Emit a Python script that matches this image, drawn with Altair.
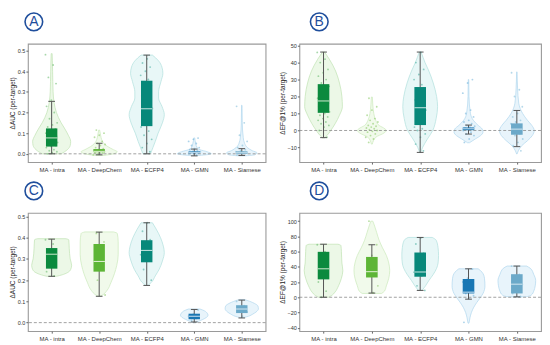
import altair as alt
import pandas as pd

cats = ["MA - intra", "MA - DeepChem", "MA - ECFP4", "MA - GMN", "MA - Siamese"]

# ---- Violin outlines: (value, half-width in category units)
A_violins = [
    [(0.485, 0.01), (0.45, 0.015), (0.4, 0.02), (0.3, 0.03), (0.25, 0.05), (0.2, 0.1), (0.15, 0.2),
     (0.12, 0.28), (0.09, 0.35), (0.06, 0.4), (0.04, 0.39), (0.02, 0.33), (0.0, 0.2)],
    [(0.115, 0.01), (0.09, 0.03), (0.07, 0.05), (0.05, 0.1), (0.035, 0.18), (0.02, 0.3), (0.01, 0.38),
     (0.0, 0.3), (-0.008, 0.1)],
    [(0.478, 0.12), (0.45, 0.25), (0.42, 0.32), (0.39, 0.34), (0.35, 0.3), (0.3, 0.25), (0.27, 0.25),
     (0.23, 0.32), (0.19, 0.37), (0.15, 0.33), (0.1, 0.24), (0.06, 0.18), (0.03, 0.13), (0.0, 0.08)],
    [(0.077, 0.01), (0.05, 0.03), (0.03, 0.06), (0.02, 0.12), (0.01, 0.27), (0.0, 0.36), (-0.008, 0.1)],
    [(0.235, 0.005), (0.15, 0.01), (0.08, 0.03), (0.05, 0.06), (0.03, 0.12), (0.015, 0.22), (0.005, 0.32),
     (-0.005, 0.27), (-0.01, 0.05)],
]
B_violins = [
    [(46.2, 0.02), (42, 0.12), (35, 0.25), (28, 0.33), (20, 0.38), (14, 0.39), (9, 0.33), (4, 0.24),
     (0, 0.15), (-3, 0.07), (-4.4, 0.02)],
    [(19.7, 0.01), (15, 0.02), (10, 0.04), (6, 0.08), (3, 0.15), (1, 0.27), (0, 0.3), (-1.5, 0.25),
     (-4, 0.08), (-8, 0.01)],
    [(46.2, 0.02), (40, 0.1), (35, 0.18), (28, 0.27), (20, 0.34), (14, 0.36), (7, 0.33), (0, 0.26),
     (-5, 0.15), (-10, 0.05), (-12.9, 0.01)],
    [(30, 0.005), (20, 0.01), (10, 0.04), (6, 0.1), (3, 0.2), (1, 0.28), (-1, 0.3), (-3, 0.25),
     (-5, 0.14), (-7.2, 0.02)],
    [(34.5, 0.005), (25, 0.015), (16, 0.04), (10, 0.12), (6, 0.22), (3, 0.31), (0, 0.36), (-3, 0.32),
     (-6, 0.22), (-9, 0.1), (-12, 0.03), (-13.8, 0.005)],
]
C_violins = [
    [(0.395, 0.3), (0.39, 0.36), (0.35, 0.37), (0.3, 0.39), (0.27, 0.42), (0.25, 0.4), (0.235, 0.33),
     (0.225, 0.22), (0.218, 0.1)],
    [(0.427, 0.3), (0.42, 0.38), (0.38, 0.4), (0.32, 0.4), (0.27, 0.37), (0.23, 0.32), (0.19, 0.25),
     (0.15, 0.16), (0.13, 0.07), (0.124, 0.02)],
    [(0.47, 0.12), (0.44, 0.2), (0.4, 0.29), (0.36, 0.35), (0.33, 0.37), (0.29, 0.33), (0.25, 0.26),
     (0.22, 0.18), (0.19, 0.1), (0.176, 0.03)],
    [(0.064, 0.12), (0.055, 0.22), (0.045, 0.27), (0.035, 0.29), (0.025, 0.26), (0.015, 0.18),
     (0.005, 0.08), (0.0, 0.02)],
    [(0.109, 0.05), (0.1, 0.17), (0.09, 0.27), (0.078, 0.34), (0.065, 0.35), (0.05, 0.3), (0.04, 0.23),
     (0.03, 0.14), (0.024, 0.04)],
]
D_violins = [
    [(69.7, 0.3), (68, 0.36), (60, 0.37), (45, 0.38), (35, 0.4), (25, 0.37), (15, 0.31), (7, 0.24),
     (2, 0.16), (0, 0.1)],
    [(100, 0.02), (95, 0.05), (85, 0.1), (75, 0.15), (65, 0.22), (55, 0.3), (45, 0.35), (35, 0.37),
     (25, 0.35), (15, 0.3), (8, 0.26), (5, 0.2)],
    [(78.6, 0.25), (75, 0.33), (65, 0.37), (55, 0.38), (45, 0.37), (38, 0.34), (30, 0.27), (22, 0.18),
     (15, 0.11), (9, 0.04)],
    [(37.4, 0.2), (33, 0.28), (25, 0.33), (15, 0.34), (5, 0.3), (0, 0.25), (-7, 0.17), (-13, 0.11),
     (-20, 0.06), (-27, 0.03), (-34, 0.01)],
    [(41, 0.2), (38, 0.28), (30, 0.35), (22, 0.39), (15, 0.38), (8, 0.35), (3, 0.3), (1, 0.22),
     (0.5, 0.1)],
]

# ---- Box statistics: (lower whisker, q1, median, q3, upper whisker); None = no box
A_boxes = [(0.0, 0.035, 0.077, 0.123, 0.254), (-0.005, 0.008, 0.012, 0.023, 0.051),
           (0.0, 0.134, 0.218, 0.354, 0.478), (-0.01, 0.003, 0.007, 0.012, 0.023),
           (-0.008, 0.0, 0.005, 0.012, 0.025)]
B_boxes = [(-4.2, 10.4, 17.4, 27.3, 46.2), None, (-12.9, 3.2, 13.4, 25.6, 46.2),
           (-2.1, 0.2, 1.0, 1.8, 3.2), (-9.5, -2.5, 0.8, 4.2, 11.8)]
C_boxes = [(0.218, 0.254, 0.322, 0.351, 0.393), (0.124, 0.24, 0.288, 0.37, 0.426),
           (0.175, 0.284, 0.34, 0.388, 0.47), (0.003, 0.016, 0.03, 0.042, 0.062),
           (0.022, 0.045, 0.064, 0.082, 0.106)]
D_boxes = [(0, 23.5, 37.4, 59.7, 69.7), (5.5, 26, 33.6, 53, 69), (9, 27, 33.2, 58.8, 78.6),
           (-2.5, 5, 6.7, 24, 37.4), (0.5, 5, 17.2, 30.3, 41)]

# ---- Individual observations (approximate)
A_points = [
    [0.48, 0.43, 0.37, 0.34, 0.26, 0.23, 0.2, 0.17, 0.15, 0.14, 0.13, 0.12, 0.11, 0.1, 0.095, 0.09, 0.085,
     0.08, 0.07, 0.065, 0.06, 0.055, 0.05, 0.045, 0.04, 0.035, 0.03, 0.02, 0.015, 0.01, 0.005, 0.0],
    [0.115, 0.1, 0.09, 0.08, 0.06, 0.05, 0.045, 0.04, 0.03, 0.025, 0.02, 0.018, 0.015, 0.012, 0.01,
     0.008, 0.005, 0.003, 0.0, -0.005],
    [0.46, 0.44, 0.42, 0.4, 0.38, 0.36, 0.34, 0.33, 0.3, 0.28, 0.26, 0.24, 0.22, 0.2, 0.19, 0.17, 0.15,
     0.13, 0.11, 0.09, 0.07, 0.05, 0.03, 0.01],
    [0.076, 0.07, 0.06, 0.05, 0.04, 0.03, 0.025, 0.02, 0.015, 0.012, 0.01, 0.008, 0.006, 0.004, 0.002,
     0.0, -0.005],
    [0.23, 0.15, 0.09, 0.06, 0.04, 0.03, 0.02, 0.015, 0.01, 0.008, 0.005, 0.003, 0.0, -0.005],
]
B_points = [
    [46, 42, 40, 36, 34, 32, 30, 28, 26, 25, 23, 22, 20, 19, 18, 17, 16, 15, 14, 13, 12, 11, 10, 9, 8, 7,
     6, 5, 4, 3, 2, 0, -4],
    [19, 14, 12, 9, 7, 6, 5, 4, 3, 2.5, 2, 1.5, 1, 0.5, 0, -0.5, -1, -2, -3, -4, -5, -7],
    [46, 40, 36, 33, 30, 27, 25, 22, 20, 18, 16, 14, 12, 10, 8, 6, 4, 2, 1, 0, -2, -4, -8, -12],
    [30, 28, 22, 12, 10, 8, 6, 5, 4, 3, 2.5, 2, 1.5, 1, 0.5, 0, -1, -2, -3, -5, -7],
    [34, 24, 20, 14, 10, 8, 6, 5, 4, 3, 2, 1, 0, -1, -2, -3, -5, -7, -9, -12],
]
C_points = [
    [0.39, 0.37, 0.33, 0.3, 0.26, 0.24, 0.22],
    [0.42, 0.38, 0.33, 0.29, 0.25, 0.2, 0.13],
    [0.47, 0.43, 0.39, 0.35, 0.32, 0.29, 0.25, 0.2],
    [0.06, 0.04, 0.03, 0.02, 0.01],
    [0.1, 0.08, 0.06, 0.05, 0.03],
]
D_points = [
    [69, 60, 45, 38, 30, 20, 8, 0],
    [100, 69, 55, 40, 33, 28, 15, 6],
    [78, 70, 58, 45, 33, 28, 15, 9],
    [37, 25, 20, 8, 5, 2, -2, -33],
    [41, 30, 22, 17, 10, 5, 1],
]

A_ticks = [0.0, 0.1, 0.2, 0.3, 0.4, 0.5]
B_ticks = [-10, 0, 10, 20, 30, 40, 50]
C_ticks = [0.0, 0.1, 0.2, 0.3, 0.4, 0.5]
D_ticks = [-40, -20, 0, 20, 40, 60, 80, 100]

# ---- styles
box_colors = ["#0b8a3e", "#5db536", "#07887a", "#1977b4", "#6ba9c9"]
median_colors = ["#cfe8cf", "#e4f3d8", "#cde9e4", "#cfe3f1", "#d5e8f2"]
vfill = ["#eaf7e4", "#eff9e9", "#e5f6f6", "#e6f3fb", "#e6f3fb"]
vstroke = ["#bfe2b3", "#cbe9bb", "#b0dfdc", "#b0d7ee", "#b0d7ee"]
pt_colors = ["#6dbd72", "#8dcc6b", "#4fb0a4", "#74b5dc", "#83bedb"]
FONT = "Liberation Sans"
label_js = "['" + "','".join(cats) + "'][floor(datum.value)]"


def panel(violins, boxes, points, ydom, yticks, yfmt, ytitle, letter, cx, w, h):
    vrows, brows, prows = [], [], []
    for i, prof in enumerate(violins):
        for v, hw in prof:
            vrows.append(dict(cat=i, y=v, xl=i + 0.5 - hw, xr=i + 0.5 + hw,
                              fill=vfill[i], stroke=vstroke[i]))
    for i, b in enumerate(boxes):
        if b is None:
            continue
        lo, q1, md, q3, hi = b
        c = i + 0.5
        brows.append(dict(cat=i, c=c, bl=c - 0.12, br=c + 0.12, cl=c - 0.07, cr=c + 0.07,
                          lo=lo, q1=q1, md=md, q3=q3, hi=hi,
                          col=box_colors[i], mcol=median_colors[i]))
    for i, vals in enumerate(points):
        for k, v in enumerate(vals):
            j = ((k * 0.618034 + i * 0.27) % 1.0 - 0.5) * 0.26
            prows.append(dict(cat=i, y=v, x=i + 0.5 + j, col=pt_colors[i]))
    vdf, bdf, pdf = pd.DataFrame(vrows), pd.DataFrame(brows), pd.DataFrame(prows)

    xs = alt.Scale(domain=[0, 5], nice=False, zero=False)
    ys = alt.Scale(domain=ydom, nice=False, zero=False)
    xa = alt.Axis(values=[0.5, 1.5, 2.5, 3.5, 4.5], labelExpr=label_js, title=None, grid=False,
                  domain=False, tickSize=2, labelFontSize=6, labelPadding=2, labelColor="#333",
                  tickColor="#666", labelFont=FONT)
    ya = alt.Axis(values=yticks, format=yfmt, title=ytitle, grid=False, domain=False, tickSize=2,
                  labelFontSize=5.5, labelPadding=1, labelColor="#333", tickColor="#666",
                  titleFontSize=6.5, titleFontWeight="normal", titlePadding=2, titleColor="#222",
                  labelFont=FONT, titleFont=FONT)

    violin = alt.Chart(vdf).mark_area(orient="horizontal", interpolate="monotone",
                                      strokeWidth=0.7, fillOpacity=0.9).encode(
        y=alt.Y("y:Q", scale=ys, axis=ya),
        x=alt.X("xl:Q", scale=xs, axis=xa),
        x2="xr:Q",
        fill=alt.Fill("fill:N", scale=None),
        stroke=alt.Stroke("stroke:N", scale=None),
        detail="cat:N",
    )
    zero = alt.Chart(pd.DataFrame({"z": [0.0]})).mark_rule(
        strokeDash=[3, 2], color="#8a8a8a", strokeWidth=0.8).encode(
        y=alt.Y("z:Q", scale=ys, axis=ya))
    pts = alt.Chart(pdf).mark_circle(size=3.5, opacity=0.6).encode(
        x=alt.X("x:Q", scale=xs, axis=xa), y=alt.Y("y:Q", scale=ys, axis=ya),
        color=alt.Color("col:N", scale=None))
    bb = alt.Chart(bdf)
    whisk = bb.mark_rule(color="#555", strokeWidth=1).encode(
        x=alt.X("c:Q", scale=xs, axis=xa), y=alt.Y("lo:Q", scale=ys, axis=ya), y2="hi:Q")
    cap_hi = bb.mark_rule(color="#555", strokeWidth=1).encode(
        x=alt.X("cl:Q", scale=xs, axis=xa), x2="cr:Q", y=alt.Y("hi:Q", scale=ys, axis=ya))
    cap_lo = bb.mark_rule(color="#555", strokeWidth=1).encode(
        x=alt.X("cl:Q", scale=xs, axis=xa), x2="cr:Q", y=alt.Y("lo:Q", scale=ys, axis=ya))
    box = bb.mark_rect().encode(
        x=alt.X("bl:Q", scale=xs, axis=xa), x2="br:Q",
        y=alt.Y("q1:Q", scale=ys, axis=ya), y2="q3:Q",
        color=alt.Color("col:N", scale=None))
    med = bb.mark_rule(strokeWidth=1).encode(
        x=alt.X("bl:Q", scale=xs, axis=xa), x2="br:Q", y=alt.Y("md:Q", scale=ys, axis=ya),
        color=alt.Color("mcol:N", scale=None))
    lab = pd.DataFrame({"t": [letter]})
    circ = alt.Chart(lab).mark_point(shape="circle", size=314, filled=False, strokeWidth=1.6,
                                     color="#1f4e9c", opacity=1).encode(
        x=alt.value(cx), y=alt.value(-22))
    txt = alt.Chart(lab).mark_text(fontSize=14, color="#1f4e9c", font=FONT, align="center",
                                   baseline="middle").encode(
        x=alt.value(cx), y=alt.value(-21.5), text="t:N")
    return alt.layer(violin, zero, pts, whisk, cap_hi, cap_lo, box, med, circ, txt).properties(
        width=w, height=h)


pA = panel(A_violins, A_boxes, A_points, [-0.04, 0.533], A_ticks, ".1f", "ΔAUC (per-target)",
           "A", 6, 239, 119)
pB = panel(B_violins, B_boxes, B_points, [-18.6, 51.1], B_ticks, "d", "ΔEF@1% (per-target)",
           "B", 20, 243, 119)
pC = panel(C_violins, C_boxes, C_points, [-0.04, 0.517], C_ticks, ".1f", "ΔAUC (per-target)",
           "C", 6, 239, 119)
pD = panel(D_violins, D_boxes, D_points, [-44.5, 111], D_ticks, "d", "ΔEF@1% (per-target)",
           "D", 20, 243, 119)

chart = alt.concat(pA, pB, pC, pD, columns=2, spacing={"row": 5, "column": 12}).properties(
    padding=0).configure_view(stroke="#9a9a9a", strokeWidth=1.1)

chart.save("out.html", embed_options={"renderer": "svg", "actions": False})
